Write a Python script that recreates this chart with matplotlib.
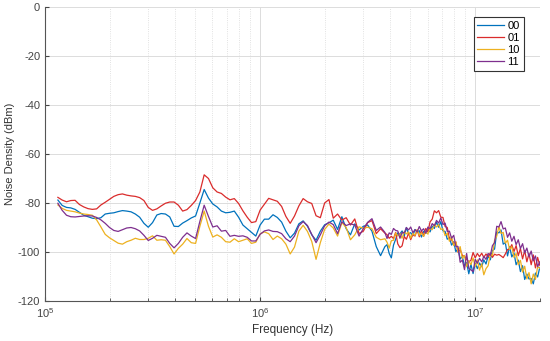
import numpy as np
from matplotlib import pyplot as plt
from matplotlib.ticker import LogLocator, NullFormatter

plt.rcParams['font.family'] = ['Liberation Sans', 'DejaVu Sans']
plt.rcParams['axes.unicode_minus'] = False

# Frequency samples (kHz)
freq_khz = [
    114.8, 120.2, 125.9, 131.8, 138.0, 144.5, 151.4, 158.5, 166.0, 173.8,
    182.0, 190.5, 199.5, 208.9, 218.8, 229.1, 239.9, 251.2, 263.0, 275.4,
    288.4, 302.0, 316.2, 331.1, 346.7, 363.1, 380.2, 398.1, 416.9, 436.5,
    457.1, 478.6, 501.2, 524.8, 549.5, 575.4, 602.6, 631.0, 660.7, 691.8,
    724.4, 758.6, 794.3, 831.8, 871.0, 912.0, 955.0,
    1000, 1047, 1096, 1148, 1202, 1259, 1318, 1380, 1445, 1514,
    1585, 1660, 1738, 1820, 1905, 1995, 2089, 2188, 2291, 2399,
    2512, 2630, 2754, 2884, 3020, 3162, 3311, 3467, 3631, 3802,
    3890, 3981, 4074, 4169, 4266, 4365, 4467, 4571, 4677, 4786,
    4898, 5012, 5129, 5248, 5370, 5495, 5623, 5754, 5888, 6026,
    6166, 6310, 6457, 6607, 6761, 6918, 7079, 7244, 7413, 7586,
    7762, 7943, 8128, 8318, 8511, 8710, 8913, 9120, 9333, 9550, 9772,
    10000, 10230, 10470, 10720, 10960, 11220, 11480, 11750, 12020, 12300,
    12590, 12880, 13180, 13490, 13800, 14130, 14450, 14790, 15140, 15490,
    15850, 16220, 16600, 16980, 17380, 17780, 18200, 18620, 19050, 19500, 19950,
]

# Noise density (dBm) for each code
nd_00 = [
    -78.8, -81.0, -81.8, -82.0, -82.6, -83.8, -85.0, -85.6, -86.2, -86.4,
    -86.0, -84.5, -84.2, -84.0, -83.5, -83.1, -83.3, -83.6, -84.5, -85.8,
    -88.3, -89.9, -88.0, -84.9, -84.3, -84.5, -85.7, -89.5, -89.6, -88.2,
    -87.2, -86.1, -85.3, -80.0, -74.5, -78.0, -80.4, -81.6, -83.3, -84.0,
    -83.8, -83.3, -85.8, -89.0, -90.5, -92.0, -93.5,
    -89.0, -86.6, -86.6, -84.8, -85.9, -87.8, -91.5, -94.2, -92.3, -88.5,
    -87.3, -89.5, -93.0, -95.2, -91.5, -88.9, -88.1, -87.0, -90.8, -85.6,
    -90.5, -93.0, -88.5, -91.0, -89.5, -89.0, -91.5, -97.8, -101.5, -97.8,
    -97.0, -100.6, -102.4, -97.2, -94.8, -92.2, -92.6, -91.4, -93.6, -90.0,
    -92.6, -92.1, -93.4, -90.8, -91.9, -91.3, -93.9, -91.6, -92.4, -91.0,
    -91.8, -89.4, -90.4, -87.8, -89.9, -87.6, -91.4, -91.6, -94.8, -94.0,
    -97.2, -95.8, -99.9, -98.6, -102.8, -101.9, -105.6, -104.3, -108.9, -105.0, -108.8,
    -104.6, -106.8, -104.5, -106.0, -103.2, -104.9, -101.6, -103.2, -99.4, -98.8,
    -91.8, -92.2, -91.0, -96.8, -96.2, -101.6, -97.8, -102.0, -100.4, -105.2,
    -103.3, -108.0, -105.6, -111.2, -109.0, -111.0, -110.8, -113.0, -108.6, -110.2, -106.3,
]

nd_01 = [
    -77.7, -78.8, -79.5, -79.0, -78.9, -80.6, -81.6, -82.3, -82.6, -82.4,
    -80.8, -79.7, -78.5, -77.3, -76.6, -76.3, -76.8, -77.1, -77.3, -77.8,
    -79.0, -81.8, -83.0, -82.4, -81.2, -80.1, -79.6, -79.6, -80.9, -83.3,
    -82.7, -81.0, -79.0, -75.5, -68.5, -70.0, -73.8, -75.5, -76.1, -77.6,
    -78.7, -78.2, -80.2, -83.2, -85.8, -88.0, -87.6,
    -82.9, -80.5, -78.1, -78.7, -79.3, -81.4, -85.5, -88.3, -85.3, -81.2,
    -78.2, -79.5, -80.2, -85.2, -86.0, -80.0, -78.6, -86.2, -84.5, -87.0,
    -86.0, -89.0, -86.5, -92.5, -91.5, -88.0, -87.2, -92.5, -90.5, -92.3,
    -92.9, -94.4, -93.6, -94.5, -92.0, -96.7, -98.2, -97.5, -93.7, -94.8,
    -92.3, -95.0, -92.8, -93.5, -91.0, -93.8, -91.2, -93.6, -90.4, -91.8,
    -87.7, -86.6, -83.2, -84.0, -83.1, -85.8, -85.9, -89.6, -90.0, -94.8,
    -95.0, -96.6, -96.0, -100.1, -99.0, -101.4, -101.8, -103.0, -104.0, -103.4, -100.2,
    -102.4, -100.6, -101.9, -100.5, -102.2, -100.8, -101.9, -100.4, -102.2, -100.9,
    -101.3, -101.0, -101.6, -102.3, -100.8, -99.0, -98.8, -97.0, -99.8, -97.4,
    -101.5, -98.6, -102.8, -99.4, -104.0, -100.6, -105.2, -101.2, -106.5, -102.2, -105.4,
]

nd_10 = [
    -80.8, -82.2, -83.0, -83.3, -83.6, -84.1, -84.5, -84.7, -85.0, -86.9,
    -89.8, -92.8, -94.2, -95.3, -96.4, -96.8, -95.8, -95.2, -94.4, -94.9,
    -94.9, -94.4, -93.4, -95.2, -95.0, -95.2, -97.8, -100.8, -98.5, -96.8,
    -94.5, -96.2, -96.5, -89.5, -83.3, -89.5, -93.9, -93.0, -94.0, -95.8,
    -96.0, -94.6, -95.8, -95.2, -94.6, -96.5, -96.0,
    -92.6, -91.8, -92.5, -94.9, -93.5, -94.6, -96.8, -100.8, -98.0, -91.5,
    -89.1, -91.6, -95.7, -103.0, -96.2, -90.8, -88.6, -90.2, -93.5, -88.0,
    -90.0, -95.0, -93.0, -89.7, -90.3, -89.9, -90.5, -94.0, -95.0, -94.6,
    -96.0, -98.4, -95.4, -95.2, -92.2, -93.4, -92.5, -94.4, -91.7, -92.6,
    -91.8, -94.3, -92.4, -93.2, -90.9, -93.2, -92.2, -93.6, -91.8, -92.7,
    -90.2, -90.9, -88.7, -89.8, -88.8, -90.8, -90.5, -93.3, -92.3, -95.6,
    -93.8, -97.4, -95.8, -100.0, -97.8, -102.6, -101.4, -106.0, -103.6, -105.2, -102.4,
    -106.0, -103.2, -107.4, -104.8, -109.3, -106.8, -105.6, -101.0, -101.4, -95.2,
    -93.5, -89.6, -92.4, -92.0, -96.4, -95.2, -99.0, -97.8, -102.2, -100.6,
    -105.2, -103.4, -108.2, -105.8, -111.0, -108.4, -113.0, -109.0, -111.2, -106.0, -106.6,
]

nd_11 = [
    -80.1, -83.0, -85.0, -85.6, -85.7, -85.5, -85.3, -85.2, -85.3, -85.9,
    -86.9, -88.3, -90.0, -91.2, -91.6, -90.9, -90.2, -90.0, -90.5, -91.4,
    -93.2, -95.3, -94.4, -93.2, -93.6, -94.0, -96.5, -98.3, -96.5, -94.0,
    -92.2, -93.5, -94.5, -87.5, -80.9, -85.5, -89.8, -89.3, -91.5, -91.2,
    -93.6, -93.2, -93.6, -93.4, -94.0, -95.5, -95.5,
    -92.8, -91.4, -91.0, -91.6, -91.7, -92.5, -94.6, -95.8, -93.5, -89.3,
    -87.6, -89.2, -92.8, -96.2, -93.0, -89.3, -87.8, -88.8, -92.5, -87.6,
    -89.2, -88.5, -89.0, -93.5, -90.4, -87.9, -86.4, -91.2, -89.8, -92.0,
    -94.5, -92.2, -92.8, -90.4, -91.2, -91.4, -94.4, -92.0, -92.2, -90.0,
    -91.0, -89.8, -92.1, -90.9, -91.8, -89.6, -91.4, -90.5, -92.3, -89.8,
    -90.5, -88.4, -89.3, -87.1, -88.2, -86.1, -88.8, -88.2, -91.6, -91.5,
    -94.4, -93.2, -97.7, -97.8, -104.2, -103.3, -107.2, -100.6, -106.7, -107.3, -108.0,
    -103.0, -104.6, -102.6, -104.0, -101.8, -103.0, -100.6, -101.4, -97.4, -96.2,
    -89.5, -89.8, -87.6, -90.6, -90.2, -94.0, -92.2, -95.6, -93.6, -97.0,
    -95.0, -98.6, -96.6, -100.4, -98.4, -102.0, -99.6, -103.6, -101.6, -106.0, -104.0,
]

series = [("00", nd_00, "#0072BD"), ("01", nd_01, "#DA2C2C"),
          ("10", nd_10, "#EDB120"), ("11", nd_11, "#7E2F8E")]

f_hz = np.array(freq_khz) * 1e3

fig = plt.figure(figsize=(5.5, 3.41), dpi=100)
ax = fig.add_axes([0.0818, 0.1173, 0.90, 0.8622])

for name, vals, col in series:
    ax.semilogx(f_hz, vals, color=col, lw=0.9, label=name)

ax.set_xlim(1e5, 2e7)
ax.set_ylim(-120, 0)
ax.set_yticks(np.arange(-120, 1, 20))
ax.xaxis.set_major_locator(LogLocator(base=10, numticks=10))
ax.xaxis.set_minor_locator(LogLocator(base=10, subs=np.arange(2, 10), numticks=20))
ax.xaxis.set_minor_formatter(NullFormatter())

ax.grid(True, which='major', color='#dcdcdc', lw=0.7, ls='-')
ax.grid(True, which='minor', axis='x', color='#d8d8d8', lw=0.6, ls=':')
ax.set_axisbelow(True)

for s in ['top', 'right']:
    ax.spines[s].set_visible(False)
for s in ['left', 'bottom']:
    ax.spines[s].set_color('#555555')
    ax.spines[s].set_linewidth(0.8)
ax.tick_params(which='both', direction='in', colors='#444444', labelsize=8)
ax.tick_params(which='major', length=3)
ax.tick_params(which='minor', length=2)

ax.set_xlabel("Frequency (Hz)", fontsize=8.5, color='#333333', labelpad=3)
ax.set_ylabel("Noise Density (dBm)", fontsize=8, color='#333333', labelpad=2)

leg = ax.legend(loc='upper right', bbox_to_anchor=(0.967, 0.967), fontsize=8,
                fancybox=False, framealpha=1, edgecolor='#333333',
                handlelength=2.4, handletextpad=0.3, borderpad=0.35,
                labelspacing=0.2, borderaxespad=0)
leg.get_frame().set_linewidth(0.8)

plt.savefig("out.png", dpi=100)
